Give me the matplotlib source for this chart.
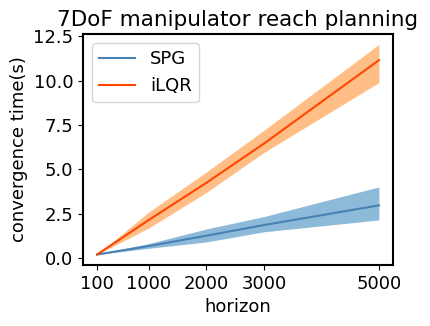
import numpy as np
import matplotlib
matplotlib.use('Agg')
from matplotlib import pyplot as plt

horizon = [100, 1000, 2000, 3000, 5000]

spg_mean = [0.2, 0.68, 1.26, 1.86, 2.97]
spg_low = [0.2, 0.55, 0.91, 1.48, 2.15]
spg_high = [0.2, 0.82, 1.64, 2.34, 4.01]

ilqr_mean = [0.2, 2.15, 4.24, 6.45, 11.15]
ilqr_low = [0.2, 1.7, 3.7, 5.95, 9.89]
ilqr_high = [0.2, 2.6, 4.85, 7.2, 12.04]

plt.rcParams['font.size'] = 13

fig = plt.figure(figsize=(4.3, 3.26), dpi=100)
ax = fig.add_axes([0.193, 0.187, 0.721, 0.709])

ax.fill_between(horizon, spg_low, spg_high, color='#1f77b4', alpha=0.5, lw=0)
ax.plot(horizon, spg_mean, color='steelblue', label='SPG')
ax.fill_between(horizon, ilqr_low, ilqr_high, color='#ff7f0e', alpha=0.5, lw=0)
ax.plot(horizon, ilqr_mean, color='orangered', label='iLQR')

ax.set_xticks(horizon)
ax.set_yticks([0, 2.5, 5, 7.5, 10, 12.5])
ax.set_xlabel('horizon')
ax.set_ylabel('convergence time(s)')
ax.set_title('7DoF manipulator reach planning', fontsize=15.5)
ax.legend(loc='upper left', fontsize=13)
for s in ax.spines.values():
    s.set_linewidth(1.5)

fig.savefig('out.png')
